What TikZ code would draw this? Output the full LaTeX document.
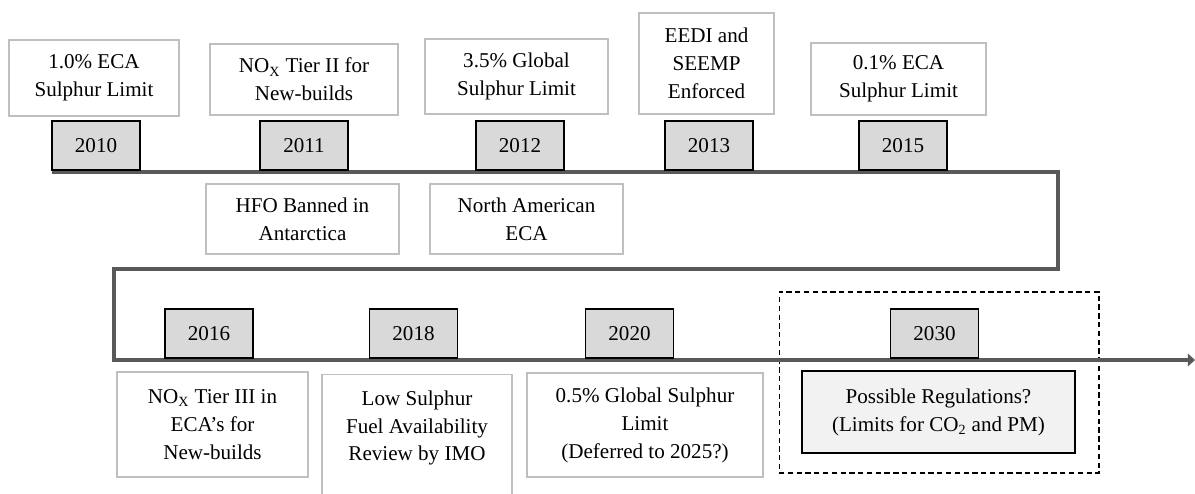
\documentclass[tikz,border=0pt]{standalone}
\usepackage{fontspec}
\setmainfont{Liberation Serif}
\usepackage{tikz}
\usetikzlibrary{arrows.meta}

\definecolor{linegray}{HTML}{595959}
\definecolor{framegray}{HTML}{BFBFBF}
\definecolor{yearfill}{HTML}{D9D9D9}
\definecolor{futurefill}{HTML}{F2F2F2}

\begin{document}
\begin{tikzpicture}[x=0.02cm, y=-0.02cm,
    evbox/.style={draw=framegray, line width=0.8pt, fill=white, align=center,
      font=\fontsize{12}{15.9}\selectfont, inner sep=2pt},
    yearbox/.style={draw=black, line width=1pt, fill=yearfill,
      minimum width=1.76cm, minimum height=0.98cm, anchor=south,
      font=\fontsize{12}{14}\selectfont},
    timeline/.style={draw=linegray, line width=2.2pt}]
        \useasboundingbox (0,0) rectangle (1195,493);

        % Define coordinates of the timeline
        \coordinate (tstart) at (52,172);
        \coordinate (bend1) at (1058,172);
        \coordinate (bend2) at (1058,269);
        \coordinate (bend3) at (114,269);
        \coordinate (bend4) at (114,360);
        \coordinate (tend) at (1195,360);

        % Dashed frame round the future part
        \node[draw, dashed, dash pattern=on 3pt off 2pt, line width=0.6pt,
          minimum width=6.4cm, minimum height=3.62cm] (future) at (939,382.5) {};

        % Draw the timeline, snaking down to the arrow
        \draw[timeline, -{Triangle[length=4pt, width=7pt]}]
          (tstart) -- (bend1) -- (bend2) -- (bend3) -- (bend4) -- (tend);

        % Year markers on the upper line
        \node[yearbox] (y2010) at (96,171) {2010};
        \node[yearbox] (y2011) at (304,171) {2011};
        \node[yearbox] (y2012) at (520,171) {2012};
        \node[yearbox] (y2013) at (709,171) {2013};
        \node[yearbox] (y2015) at (903,171) {2015};

        % Year markers on the lower line
        \node[yearbox] (y2016) at (209,359) {2016};
        \node[yearbox] (y2018) at (413.5,359) {2018};
        \node[yearbox] (y2020) at (629.5,359) {2020};
        \node[yearbox] (y2030) at (934.5,359) {2030};

        % Events above the upper line
        \node[evbox, minimum width=3.4cm, minimum height=1.52cm] (e2010) at (94,78)
          {1.0\% ECA\\Sulphur Limit};
        \node[evbox, minimum width=3.76cm, minimum height=1.42cm] (e2011) at (304,79.5)
          {NO\textsubscript{X} Tier II for\\New-builds};
        \node[evbox, minimum width=3.66cm, minimum height=1.5cm] (e2012) at (516.5,76.5)
          {3.5\% Global\\Sulphur Limit};
        \node[evbox, minimum width=2.7cm, minimum height=2.02cm] (e2013) at (706.5,63.5)
          {EEDI and\\SEEMP\\Enforced};
        \node[evbox, minimum width=3.5cm, minimum height=1.44cm] (e2015) at (898.5,79)
          {0.1\% ECA\\Sulphur Limit};

        % Events below the upper line
        \node[evbox, minimum width=3.86cm, minimum height=1.4cm] (hfo) at (302.5,219)
          {HFO Banned in\\Antarctica};
        \node[evbox, minimum width=3.86cm, minimum height=1.4cm] (naeca) at (526.5,219)
          {North American\\ECA};

        % Events below the lower line
        \node[evbox, minimum width=3.82cm, minimum height=2.1cm] (e2016) at (212.5,424.5)
          {NO\textsubscript{X} Tier III in\\ECA’s for\\New-builds};
        \node[evbox, minimum width=3.8cm, minimum height=3cm, anchor=north] (e2018box) at (417,374) {};
        \node[evbox, draw=none, fill=none] (e2018) at (417,428)
          {Low Sulphur\\Fuel Availability\\Review by IMO};
        \node[evbox, minimum width=4.72cm, minimum height=2.08cm] (e2020) at (645,425)
          {0.5\% Global Sulphur\\Limit\\(Deferred to 2025?)};
        \node[evbox, draw=black, line width=1pt, fill=futurefill,
          minimum width=5.46cm, minimum height=1.64cm] (e2030) at (938.5,412)
          {Possible Regulations?\\(Limits for CO\textsubscript{2} and PM)};
      \end{tikzpicture}
\end{document}
